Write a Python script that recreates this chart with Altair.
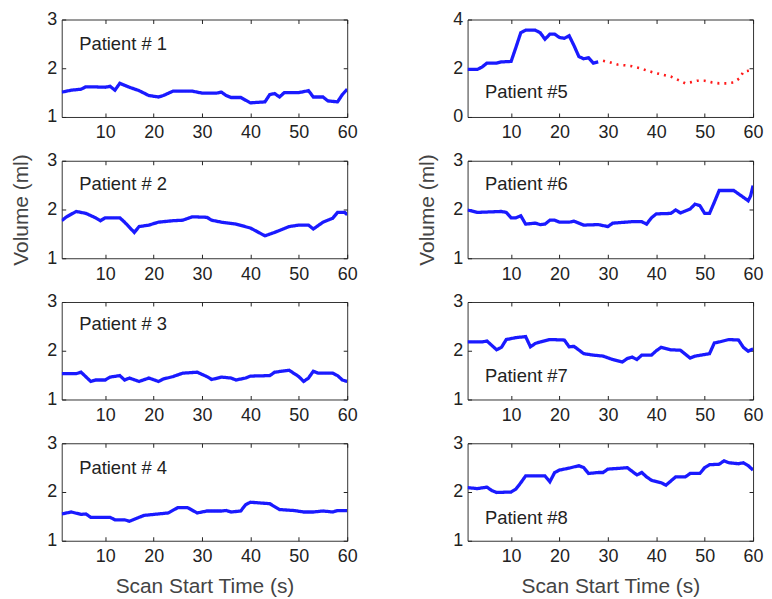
import altair as alt
import pandas as pd

# ---------------- data ----------------
t1 = [1, 3, 5, 6, 7, 10, 11, 12, 13, 15, 17, 19, 21, 22, 24, 28, 30, 33, 34, 35, 36, 38, 40, 43, 44, 45, 46, 47, 50, 52, 53, 55, 56, 58, 59, 60]
v1 = [1.51, 1.55, 1.57, 1.62, 1.62, 1.61, 1.63, 1.55, 1.69, 1.61, 1.54, 1.44, 1.41, 1.44, 1.53, 1.53, 1.49, 1.49, 1.51, 1.44, 1.40, 1.40, 1.29, 1.31, 1.46, 1.48, 1.41, 1.50, 1.50, 1.54, 1.41, 1.41, 1.33, 1.31, 1.46, 1.57]

t2 = [1, 2, 4, 6, 8, 9, 10, 13, 14, 16, 17, 19, 21, 24, 26, 28, 31, 32, 34, 37, 40, 43, 45, 48, 50, 52, 53, 55, 57, 58, 59.5, 60]
v2 = [1.77, 1.85, 1.96, 1.92, 1.83, 1.77, 1.83, 1.83, 1.74, 1.53, 1.65, 1.68, 1.74, 1.77, 1.78, 1.85, 1.84, 1.78, 1.74, 1.70, 1.62, 1.46, 1.53, 1.65, 1.68, 1.68, 1.60, 1.74, 1.82, 1.94, 1.94, 1.89]

t3 = [1, 4, 5, 7, 8, 10, 11, 13, 14, 15, 17, 19, 21, 22, 24, 26, 29, 31, 32, 34, 36, 37, 39, 40, 44, 45, 48, 50, 51, 52, 53, 54, 57, 58, 59, 60]
v3 = [1.53, 1.53, 1.56, 1.37, 1.40, 1.40, 1.46, 1.49, 1.40, 1.44, 1.37, 1.44, 1.37, 1.42, 1.47, 1.54, 1.56, 1.47, 1.41, 1.46, 1.44, 1.40, 1.44, 1.48, 1.49, 1.56, 1.60, 1.47, 1.37, 1.44, 1.58, 1.54, 1.54, 1.49, 1.40, 1.37]

t4 = [1, 3, 5, 6, 7, 9, 11, 12, 14, 15, 17, 18, 21, 23, 25, 27, 29, 31, 34, 35, 36, 38, 39, 40, 44, 46, 49, 51, 53, 55, 57, 58, 60]
v4 = [1.55, 1.59, 1.54, 1.55, 1.48, 1.48, 1.48, 1.43, 1.43, 1.40, 1.48, 1.52, 1.55, 1.57, 1.68, 1.68, 1.57, 1.61, 1.61, 1.62, 1.59, 1.61, 1.74, 1.79, 1.76, 1.64, 1.62, 1.59, 1.59, 1.61, 1.59, 1.62, 1.62]

t5 = [1, 3, 4, 5, 7, 8, 10, 11, 12, 13, 15, 16, 17, 18, 19, 20, 21, 22, 23, 24, 25, 26, 27, 28]
v5 = [1.95, 1.95, 2.05, 2.21, 2.21, 2.26, 2.28, 2.86, 3.46, 3.56, 3.56, 3.46, 3.19, 3.40, 3.40, 3.26, 3.23, 3.33, 2.93, 2.48, 2.39, 2.43, 2.21, 2.26]
t5_red = [29, 30.5, 32, 33.5, 35, 36.5, 38, 39.5, 41, 43, 44.5, 46, 47, 48.5, 50, 51.5, 53, 54.5, 56, 57.3, 58, 59.5, 60]
v5_red = [2.31, 2.24, 2.15, 2.12, 2.08, 2.01, 1.91, 1.82, 1.75, 1.66, 1.52, 1.38, 1.42, 1.49, 1.49, 1.42, 1.38, 1.38, 1.42, 1.60, 1.86, 1.91, 1.95]

t6 = [1, 3, 8, 9, 10, 11, 12, 13, 15, 16, 17, 18, 19, 20, 22, 23, 25, 28, 30, 31, 35, 37, 38, 39, 40, 43, 44, 45, 47, 48, 49, 50, 51, 52, 53, 56, 57, 58, 59, 59.5, 60]
v6 = [1.99, 1.94, 1.96, 1.94, 1.83, 1.83, 1.87, 1.70, 1.72, 1.69, 1.70, 1.78, 1.78, 1.74, 1.74, 1.76, 1.68, 1.69, 1.65, 1.72, 1.75, 1.75, 1.70, 1.83, 1.91, 1.92, 1.99, 1.93, 2.01, 2.11, 2.08, 1.92, 1.92, 2.15, 2.39, 2.39, 2.32, 2.25, 2.18, 2.28, 2.49]

t7 = [1, 4, 5, 6, 7, 8, 9, 11, 13, 14, 15, 16, 18, 21, 22, 23, 25, 27, 29, 31, 33, 34, 35, 36, 37, 39, 40, 41, 43, 45, 47, 48, 51, 52, 53, 55, 57, 58, 59, 60]
v7 = [2.18, 2.18, 2.20, 2.11, 2.02, 2.07, 2.23, 2.27, 2.29, 2.08, 2.15, 2.18, 2.23, 2.22, 2.08, 2.09, 1.94, 1.91, 1.89, 1.82, 1.77, 1.84, 1.87, 1.82, 1.91, 1.91, 2.00, 2.07, 2.02, 2.01, 1.85, 1.89, 1.94, 2.16, 2.18, 2.23, 2.22, 2.07, 1.99, 2.04]

t8 = [1, 3, 5, 6, 7, 10, 11, 12, 13, 15, 17, 18, 19, 20, 22, 24, 25, 26, 28, 29, 30, 33, 34, 36, 37, 38, 39, 41, 42, 44, 46, 47, 49, 50, 51, 53, 54, 55, 57, 58, 59, 60]
v8 = [2.09, 2.07, 2.10, 2.03, 1.99, 2.00, 2.06, 2.19, 2.33, 2.33, 2.33, 2.21, 2.40, 2.45, 2.49, 2.54, 2.50, 2.38, 2.40, 2.40, 2.47, 2.49, 2.50, 2.35, 2.40, 2.31, 2.24, 2.19, 2.14, 2.31, 2.31, 2.38, 2.38, 2.50, 2.56, 2.57, 2.64, 2.60, 2.58, 2.60, 2.54, 2.45]

labels = ["Patient # 1", "Patient # 2", "Patient # 3", "Patient # 4",
          "Patient #5", "Patient #6", "Patient #7", "Patient #8"]
label_x = [4.6, 4.6, 4.6, 4.6, 4.6, 4.6, 4.6, 4.6]
label_y = [2.5, 2.53, 2.55, 2.5, 1.02, 2.53, 1.49, 1.47]

x_ticks = [10, 20, 30, 40, 50, 60]
y_ticks_std = [1, 2, 3]
y_ticks_p5 = [0, 2, 4]

BLUE = "#1a1aff"
RED = "#ff1a1a"
W, H = 287, 98


def panel(i, series, ydom, yticks, xtitle=None, ytitle=None):
    rows = []
    for seg, (ts, vs) in series.items():
        for t, v in zip(ts, vs):
            rows.append({"t": t, "v": v, "seg": seg})
    df = pd.DataFrame(rows)
    xs = alt.Scale(domain=[1, 60], nice=False, zero=False)
    ys = alt.Scale(domain=ydom, nice=False, zero=False)

    line = alt.Chart(df).mark_line(strokeCap="butt", clip=True).encode(
        x=alt.X("t:Q", scale=xs, title=xtitle,
                axis=alt.Axis(orient="bottom", values=x_ticks, offset=-4, tickSize=4,
                              domain=False, grid=False, labelPadding=7, titlePadding=10,
                              labelFlush=False, labelOverlap=False, format=".0f")),
        y=alt.Y("v:Q", scale=ys, title=ytitle,
                axis=alt.Axis(orient="left", values=yticks, offset=-4, tickSize=4,
                              domain=False, grid=False, labelPadding=5, titlePadding=15,
                              labelFlush=False, labelOverlap=False, format=".0f")),
        color=alt.Color("seg:N", scale=alt.Scale(domain=["blue", "red"], range=[BLUE, RED]), legend=None),
        strokeDash=alt.StrokeDash("seg:N", scale=alt.Scale(domain=["blue", "red"], range=[[1, 0], [2, 5]]), legend=None),
        strokeWidth=alt.StrokeWidth("seg:N", scale=alt.Scale(domain=["blue", "red"], range=[3.3, 2.6]), legend=None),
        detail="seg:N",
        order="t:Q",
    )

    tdf = pd.DataFrame({"t": [label_x[i]], "v": [label_y[i]], "label": [labels[i]]})
    txt = alt.Chart(tdf).mark_text(align="left", baseline="middle", fontSize=18.5,
                                   font="Liberation Sans", color="#222").encode(
        x=alt.X("t:Q", scale=xs, title=None,
                axis=alt.Axis(orient="top", values=x_ticks, offset=-4, tickSize=4,
                              domain=False, grid=False, labels=False)),
        y=alt.Y("v:Q", scale=ys, title=None,
                axis=alt.Axis(orient="right", values=yticks, offset=-4, tickSize=4,
                              domain=False, grid=False, labels=False)),
        text="label:N",
    )
    return alt.layer(line, txt).resolve_axis(x="independent", y="independent").properties(width=W, height=H)


p1 = panel(0, {"blue": (t1, v1)}, [1, 3], y_ticks_std)
p2 = panel(1, {"blue": (t2, v2)}, [1, 3], y_ticks_std, ytitle="Volume (ml)")
p3 = panel(2, {"blue": (t3, v3)}, [1, 3], y_ticks_std)
p4 = panel(3, {"blue": (t4, v4)}, [1, 3], y_ticks_std, xtitle="Scan Start Time (s)")
p5 = panel(4, {"blue": (t5, v5), "red": (t5_red, v5_red)}, [0, 4], y_ticks_p5)
p6 = panel(5, {"blue": (t6, v6)}, [1, 3], y_ticks_std, ytitle="Volume (ml)")
p7 = panel(6, {"blue": (t7, v7)}, [1, 3], y_ticks_std)
p8 = panel(7, {"blue": (t8, v8)}, [1, 3], y_ticks_std, xtitle="Scan Start Time (s)")

chart = alt.concat(p1, p5, p2, p6, p3, p7, p4, p8, columns=2,
                   spacing={"row": 44, "column": 121}, bounds="flush").properties(
    padding={"left": 2, "top": 0, "right": 0, "bottom": 0}
).configure_view(
    stroke="#333", strokeWidth=1
).configure_axis(
    labelFont="Liberation Sans", labelFontSize=18, labelColor="#222",
    titleFont="Liberation Sans", titleFontSize=21, titleFontWeight="normal", titleColor="#444",
    tickColor="#222", tickWidth=1
)

chart.save("out.html", embed_options={"renderer": "svg", "actions": False})
